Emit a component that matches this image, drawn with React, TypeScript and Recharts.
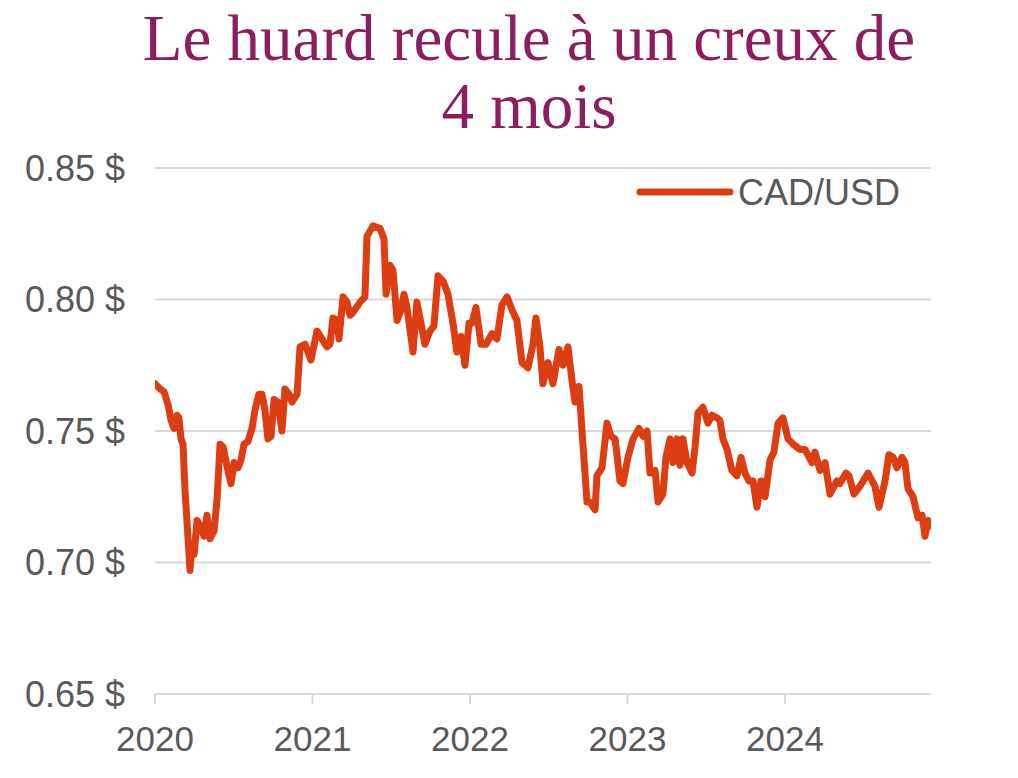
import React from 'react';
import { LineChart, Line, XAxis, YAxis, CartesianGrid } from 'recharts';

// Decimal-year dates (weekly-ish samples)
const dates: number[] = [
  2020.000, 2020.032, 2020.057, 2020.083, 2020.102, 2020.121, 2020.140, 2020.152, 2020.165, 2020.178,
  2020.190, 2020.210, 2020.222, 2020.235, 2020.248, 2020.267, 2020.286, 2020.311, 2020.330, 2020.349,
  2020.375, 2020.394, 2020.413, 2020.432, 2020.463, 2020.483, 2020.502, 2020.527, 2020.546, 2020.565,
  2020.590, 2020.616, 2020.635, 2020.660, 2020.679, 2020.698, 2020.717, 2020.737, 2020.756, 2020.781,
  2020.806, 2020.825, 2020.851, 2020.870, 2020.902, 2020.921, 2020.952, 2020.990, 2021.029, 2021.060,
  2021.092, 2021.111, 2021.130, 2021.156, 2021.168, 2021.194, 2021.219, 2021.238, 2021.257, 2021.302,
  2021.333, 2021.346, 2021.384, 2021.429, 2021.454, 2021.467, 2021.492, 2021.511, 2021.537, 2021.562,
  2021.581, 2021.600, 2021.638, 2021.663, 2021.714, 2021.746, 2021.771, 2021.797, 2021.829, 2021.860,
  2021.892, 2021.917, 2021.943, 2021.968, 2021.994, 2022.013, 2022.038, 2022.070, 2022.102, 2022.140,
  2022.171, 2022.203, 2022.235, 2022.267, 2022.298, 2022.330, 2022.368, 2022.400, 2022.419, 2022.444,
  2022.463, 2022.495, 2022.527, 2022.565, 2022.590, 2022.622, 2022.648, 2022.667, 2022.692, 2022.717,
  2022.743, 2022.762, 2022.794, 2022.806, 2022.838, 2022.870, 2022.895, 2022.921, 2022.952, 2022.971,
  2023.003, 2023.035, 2023.073, 2023.098, 2023.124, 2023.143, 2023.175, 2023.194, 2023.225, 2023.244,
  2023.270, 2023.289, 2023.314, 2023.333, 2023.352, 2023.378, 2023.410, 2023.429, 2023.448, 2023.479,
  2023.511, 2023.537, 2023.568, 2023.587, 2023.606, 2023.632, 2023.663, 2023.695, 2023.721, 2023.746,
  2023.771, 2023.797, 2023.822, 2023.848, 2023.873, 2023.905, 2023.930, 2023.956, 2023.987, 2024.019,
  2024.051, 2024.095, 2024.127, 2024.171, 2024.190, 2024.222, 2024.254, 2024.286, 2024.330, 2024.349,
  2024.387, 2024.406, 2024.438, 2024.476, 2024.527, 2024.571, 2024.597, 2024.635, 2024.660, 2024.686,
  2024.711, 2024.743, 2024.762, 2024.781, 2024.813, 2024.844, 2024.870, 2024.889, 2024.908, 2024.927,
];

const cadUsd: number[] = [
  0.768, 0.766, 0.765, 0.760, 0.754, 0.751, 0.756, 0.755, 0.747, 0.745,
  0.728, 0.709, 0.697, 0.707, 0.703, 0.716, 0.714, 0.710, 0.718, 0.709,
  0.712, 0.724, 0.745, 0.744, 0.735, 0.730, 0.738, 0.736, 0.739, 0.745,
  0.746, 0.751, 0.758, 0.764, 0.764, 0.758, 0.747, 0.748, 0.762, 0.761,
  0.750, 0.766, 0.764, 0.761, 0.764, 0.782, 0.783, 0.777, 0.788, 0.785,
  0.782, 0.783, 0.793, 0.792, 0.785, 0.801, 0.799, 0.794, 0.795, 0.799,
  0.801, 0.824, 0.828, 0.827, 0.823, 0.802, 0.813, 0.811, 0.792, 0.796,
  0.802, 0.797, 0.780, 0.799, 0.783, 0.788, 0.790, 0.809, 0.807, 0.802,
  0.791, 0.780, 0.786, 0.775, 0.791, 0.791, 0.797, 0.783, 0.783, 0.787,
  0.785, 0.798, 0.801, 0.796, 0.792, 0.776, 0.774, 0.783, 0.793, 0.782,
  0.768, 0.776, 0.768, 0.781, 0.775, 0.782, 0.769, 0.761, 0.767, 0.745,
  0.723, 0.723, 0.720, 0.733, 0.736, 0.753, 0.748, 0.747, 0.731, 0.730,
  0.740, 0.747, 0.751, 0.748, 0.750, 0.734, 0.735, 0.723, 0.726, 0.740,
  0.747, 0.738, 0.747, 0.737, 0.747, 0.738, 0.734, 0.744, 0.757, 0.759,
  0.753, 0.756, 0.755, 0.754, 0.747, 0.743, 0.735, 0.733, 0.740, 0.734,
  0.731, 0.731, 0.721, 0.731, 0.725, 0.739, 0.742, 0.753, 0.755, 0.747,
  0.745, 0.743, 0.743, 0.738, 0.742, 0.735, 0.738, 0.726, 0.731, 0.730,
  0.734, 0.733, 0.726, 0.729, 0.734, 0.729, 0.721, 0.731, 0.741, 0.740,
  0.736, 0.740, 0.738, 0.728, 0.725, 0.717, 0.718, 0.710, 0.716, 0.714,
];

const yearTicks: number[] = [2020, 2021, 2022, 2023, 2024];
const valueTicks: number[] = [0.65, 0.7, 0.75, 0.8, 0.85];
const seriesName = 'CAD/USD';
const titleLines: string[] = ['Le huard recule à un creux de', '4 mois'];

const data = dates.map((d, i) => ({ date: d, value: cadUsd[i] }));
const xDomain: [number, number] = [dates[0], dates[dates.length - 1]];

const LINE_COLOR = '#DD3D12';
const TEXT_COLOR = '#595959';
const GRID_COLOR = '#D9D9D9';
const FONT = '"Liberation Sans", Arial, sans-serif';

export default function App() {
  return (
    <div style={{ position: 'absolute', top: 0, left: 0, width: 1018, height: 778, background: '#fff' }}>
      <div
        style={{
          position: 'absolute',
          top: 4,
          left: 29,
          width: 1000,
          textAlign: 'center',
          fontFamily: '"Liberation Serif", "Times New Roman", serif',
          fontSize: 65,
          lineHeight: '68px',
          color: '#8C1D5E',
        }}
      >
        {titleLines.map((t, i) => (
          <div key={i}>{t}</div>
        ))}
      </div>
      <svg
        width={300}
        height={44}
        style={{ position: 'absolute', top: 172, left: 632, zIndex: 2 }}
      >
        <line x1={8} y1={20} x2={98} y2={20} stroke={LINE_COLOR} strokeWidth={7} strokeLinecap="round" />
        <text x={106} y={33} fontSize={36} fontFamily={FONT} fill={TEXT_COLOR}>
          {seriesName}
        </text>
      </svg>
      <LineChart
        width={1018}
        height={778}
        data={data}
        margin={{ top: 168, right: 87, bottom: 24, left: 0 }}
      >
        <CartesianGrid vertical={false} stroke={GRID_COLOR} strokeWidth={2} />
        <XAxis
          dataKey="date"
          type="number"
          scale="linear"
          domain={xDomain}
          allowDataOverflow
          ticks={yearTicks}
          interval={0}
          height={60}
          stroke={GRID_COLOR}
          strokeWidth={2}
          tickSize={10}
          tickMargin={22}
          tick={{ fill: TEXT_COLOR, fontSize: 35, fontFamily: FONT }}
        />
        <YAxis
          domain={[0.65, 0.85]}
          ticks={valueTicks}
          width={155}
          axisLine={false}
          tickLine={false}
          tickSize={0}
          tickMargin={30}
          tickFormatter={(v: number) => v.toFixed(2) + ' $'}
          tick={{ fill: TEXT_COLOR, fontSize: 36, fontFamily: FONT }}
        />
        <Line
          type="linear"
          dataKey="value"
          name={seriesName}
          stroke={LINE_COLOR}
          strokeWidth={7}
          strokeLinejoin="round"
          strokeLinecap="round"
          dot={false}
          activeDot={false}
          isAnimationActive={false}
        />
      </LineChart>
    </div>
  );
}
